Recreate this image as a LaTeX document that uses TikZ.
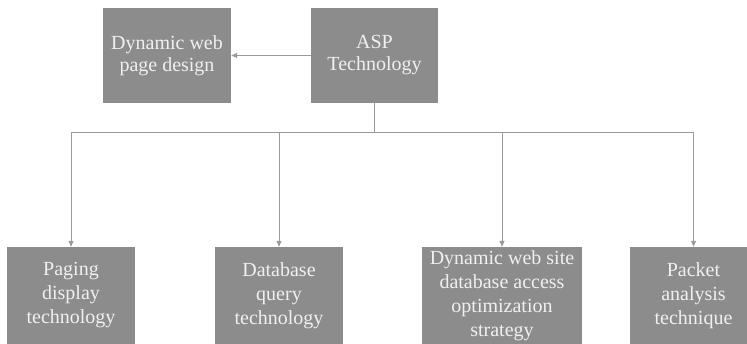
\documentclass[tikz,border=0pt]{standalone}
\usepackage{fontspec}
\setmainfont{Liberation Serif}
\usepackage{tikz}
\usetikzlibrary{arrows.meta,positioning}

\definecolor{boxgray}{HTML}{8C8C8C}
\definecolor{linegray}{HTML}{9A9A9A}

\begin{document}
\begin{tikzpicture}[x=1pt, y=1pt,
    topbox/.style={fill=boxgray, draw=none, text=white!94!black, align=center,
        minimum width=127pt, minimum height=95pt, inner sep=0pt,
        font=\fontsize{20}{22}\selectfont},
    leafbox/.style={fill=boxgray, draw=none, text=white!94!black, align=center,
        minimum height=97pt, inner sep=0pt,
        font=\fontsize{20}{24}\selectfont},
    link/.style={draw=linegray, line width=0.9pt},
    arr/.style={link, -{Triangle[length=6pt, width=5pt]}}]
    \useasboundingbox (0,0) rectangle (747,-344);
    \clip (0,0) rectangle (747,-344);

    % Top row
    \node[topbox] (asp) at (374.5,-55.5) {ASP\\Technology};
    \node[topbox, minimum width=128pt] (webdesign) at (167,-55.5) {Dynamic web\\page design};
    \draw[arr] (asp) -- (webdesign);

    % Bottom row
    \node[leafbox, minimum width=128pt] (paging) at (71,-295.5) {Paging\\display\\technology};
    \node[leafbox, minimum width=128pt] (dbquery) at (279,-295.5) {Database\\query\\technology};
    \node[leafbox, minimum width=160pt] (dbaccess) at (502,-295.5) {Dynamic web site\\database access\\optimization\\strategy};
    \node[leafbox, minimum width=127pt] (packet) at (693.5,-295.5) {Packet\\analysis\\technique};

    % Connectors
    \coordinate (bus) at (374.5,-132);
    \draw[link] (asp.south) -- (bus);
    \foreach \leaf in {paging, dbquery, dbaccess, packet} {
        \draw[arr] (bus) -| (\leaf.north);
    }
\end{tikzpicture}
\end{document}
